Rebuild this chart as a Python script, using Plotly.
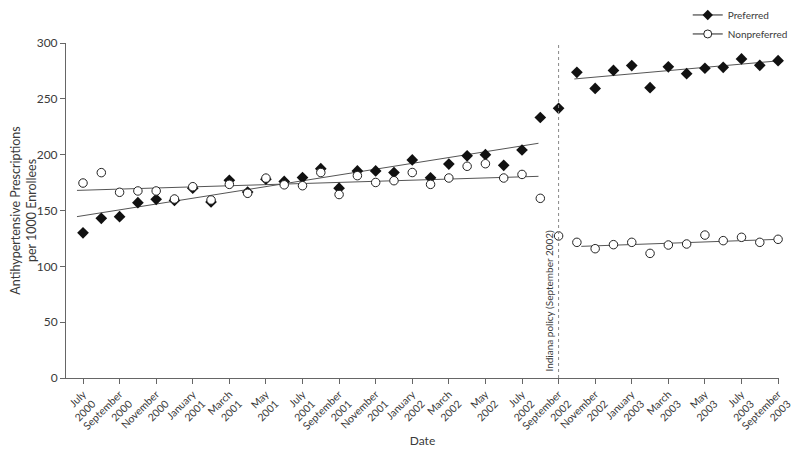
import plotly.graph_objects as go

# Month index 0 = July 2000 ... 38 = September 2003
months = list(range(39))

preferred = [130, 143, 144.5, 157, 160, 159, 170, 157.6, 177, 166.5,
             178, 176, 179.5, 187.5, 170, 185.4, 185.4, 184, 195.3, 179.3,
             191.6, 199, 200, 190.5, 204.2, 233.3, 241.5, 273.7, 259.3, 275.4,
             279.8, 260, 278.7, 272.5, 277.4, 278.2, 285.7, 280, 284.2]

nonpreferred = [174.6, 183.9, 166.3, 167.5, 167.5, 160.3, 171.3, 159.4, 173.4, 165.4,
                179, 173, 172.2, 184, 164.3, 181.2, 175.1, 176.7, 184, 173.4,
                179.1, 189.6, 191.9, 179.1, 182.3, 160.9, 127.2, 121.5, 115.8, 119.4,
                121.5, 111.6, 119.1, 120, 128, 123, 126, 121.5, 124.2]

# Trend line endpoints (month, value)
trend_pre_x = [-0.33, 24.9]
trend_pre_pref = [144.5, 210.2]
trend_pre_nonpref = [168, 180.6]
trend_post_pref_x = [26.86, 38.14]
trend_post_pref = [267.8, 284.2]
trend_post_nonpref_x = [27.24, 38.05]
trend_post_nonpref = [117.9, 124.2]

tick_months = list(range(0, 39, 2))
tick_labels = ["July<br>2000", "September<br>2000", "November<br>2000", "January<br>2001",
               "March<br>2001", "May<br>2001", "July<br>2001", "September<br>2001",
               "November<br>2001", "January<br>2002", "March<br>2002", "May<br>2002",
               "July<br>2002", "September<br>2002", "November<br>2002", "January<br>2003",
               "March<br>2003", "May<br>2003", "July<br>2003", "September<br>2003"]

policy_month = 26
policy_label = "Indiana policy (September 2002)"

FONT = "Lato"
TXT = "#3a3a3a"
LINE = "#666666"

fig = go.Figure()

# trend lines
for xs, ys in [(trend_pre_x, trend_pre_pref), (trend_pre_x, trend_pre_nonpref),
               (trend_post_pref_x, trend_post_pref), (trend_post_nonpref_x, trend_post_nonpref)]:
    fig.add_trace(go.Scatter(x=xs, y=ys, mode="lines", line=dict(color="#555555", width=1),
                             showlegend=False, hoverinfo="skip"))

fig.add_trace(go.Scatter(x=months, y=preferred, mode="markers", name="Preferred",
                         marker=dict(symbol="diamond", size=9, color="#111111",
                                     line=dict(width=0)),
                         showlegend=False, cliponaxis=False))
fig.add_trace(go.Scatter(x=months, y=nonpreferred, mode="markers", name="Nonpreferred",
                         marker=dict(symbol="circle", size=8.5, color="white",
                                     line=dict(width=1, color="#222222")),
                         showlegend=False, cliponaxis=False))

# legend entries
fig.add_trace(go.Scatter(x=[None], y=[None], mode="lines+markers", name="Preferred",
                         line=dict(color="#222222", width=1),
                         marker=dict(symbol="diamond", size=8, color="#111111")))
fig.add_trace(go.Scatter(x=[None], y=[None], mode="lines+markers", name="Nonpreferred",
                         line=dict(color="#222222", width=1),
                         marker=dict(symbol="circle", size=8, color="white",
                                     line=dict(width=1, color="#222222"))))

fig.add_shape(type="line", x0=policy_month, x1=policy_month, y0=0, y1=300,
              xref="x", yref="y", line=dict(color="#888888", width=1, dash="dot"))

fig.add_annotation(x=policy_month, y=0, xref="x", yref="y", text=policy_label,
                   textangle=-90, showarrow=False, xanchor="right", yanchor="bottom",
                   xshift=-2, yshift=4, font=dict(family=FONT, size=10, color=TXT))

# page has an 8px body margin: figure is 784x440 placed at (8, 8)
fig.update_layout(
    width=784, height=440,
    margin=dict(l=58, r=13, t=35, b=70, autoexpand=False),
    paper_bgcolor="white", plot_bgcolor="white",
    font=dict(family=FONT, size=11, color=TXT),
    legend=dict(x=0.872, xanchor="left", y=1.127, yanchor="top",
                font=dict(family=FONT, size=10, color=TXT),
                itemwidth=30, tracegroupgap=0, bgcolor="rgba(0,0,0,0)"),
    xaxis=dict(range=[-0.93, 38.05], tickvals=tick_months, ticktext=tick_labels,
               tickangle=-45, showline=True, linecolor=LINE, linewidth=1,
               ticks="outside", ticklen=5, tickcolor=LINE, showgrid=False, zeroline=False,
               tickfont=dict(size=10.5), automargin=False, ticklabeloverflow="allow",
               title=dict(text="Date", font=dict(size=12), standoff=10)),
    yaxis=dict(range=[0, 300], tickvals=[0, 50, 100, 150, 200, 250, 300],
               showline=True, linecolor=LINE, linewidth=1, ticks="outside", ticklen=5,
               tickcolor=LINE, showgrid=False, zeroline=False, automargin=False,
               tickfont=dict(size=12),
               title=dict(text="Antihypertensive Prescriptions<br>per 1000 Enrollees",
                          font=dict(size=12.5), standoff=5)),
)

fig.write_html("out.html")
